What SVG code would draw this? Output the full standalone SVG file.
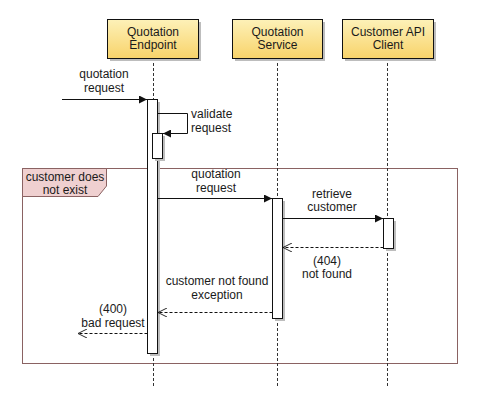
<svg xmlns="http://www.w3.org/2000/svg" width="480" height="411" viewBox="0 0 480 411">
<defs>
<linearGradient id="hdr" x1="0" y1="0" x2="0" y2="1">
<stop offset="0" stop-color="#fdf1b8"/>
<stop offset="1" stop-color="#f8d36a"/>
</linearGradient>
<marker id="filled" viewBox="0 0 10 10" refX="10" refY="5" markerWidth="9" markerHeight="8" markerUnits="userSpaceOnUse" orient="auto">
<path d="M0,0 L10,5 L0,10 z" fill="#111"/>
</marker>
<marker id="open" viewBox="0 0 10 10" refX="10" refY="5" markerWidth="9" markerHeight="9" markerUnits="userSpaceOnUse" orient="auto">
<path d="M0,0 L10,5 L0,10" fill="none" stroke="#111" stroke-width="1"/>
</marker>
</defs>
<style>
text{font-family:"Liberation Sans",Arial,sans-serif;font-size:12px;fill:#1a1a1a}
.c{text-anchor:middle}
.hdr{fill:url(#hdr);stroke:#111;stroke-width:1}
.shadow{fill:#bdbdbd}
.life{stroke:#333;stroke-width:1;stroke-dasharray:3,2;fill:none}
.act{fill:#fff;stroke:#111;stroke-width:1}
.msg{stroke:#111;stroke-width:1;fill:none}
.dash{stroke:#111;stroke-width:1;fill:none;stroke-dasharray:3,2}
.frame{fill:none;stroke:#8a6262;stroke-width:1}
.tab{fill:#efd0d0;stroke:#8a6262;stroke-width:1}
</style>
<rect width="480" height="411" fill="#fff"/>

<g id="fragment">
<rect class="frame" x="22.5" y="168.5" width="435" height="195"/>
<path class="tab" d="M22.5,168.5 H106.5 V186 L98,196.5 H22.5 Z"/>
<text class="c" x="65" y="181">customer does</text>
<text class="c" x="65" y="194">not exist</text>
</g>

<g id="lifelines">
<line class="life" x1="153.5" y1="58" x2="153.5" y2="388"/>
<line class="life" x1="277.5" y1="58" x2="277.5" y2="388"/>
<line class="life" x1="387.5" y1="58" x2="387.5" y2="388"/>
</g>

<g id="quotation-endpoint">
<rect class="shadow" x="110" y="22" width="91" height="39"/>
<rect class="hdr" x="107.5" y="19.5" width="91" height="39"/>
<text class="c" x="153" y="36">Quotation</text>
<text class="c" x="153" y="49">Endpoint</text>
</g>

<g id="quotation-service">
<rect class="shadow" x="235" y="22" width="90" height="39"/>
<rect class="hdr" x="232.5" y="19.5" width="90" height="39"/>
<text class="c" x="277.5" y="36">Quotation</text>
<text class="c" x="277.5" y="49">Service</text>
</g>

<g id="customer-api-client">
<rect class="shadow" x="345" y="22" width="91" height="39"/>
<rect class="hdr" x="342.5" y="19.5" width="91" height="39"/>
<text class="c" x="388" y="36">Customer API</text>
<text class="c" x="388" y="49">Client</text>
</g>

<g id="activations">
<rect class="shadow" x="150" y="102" width="10" height="254"/>
<rect class="act" x="147.5" y="99.5" width="10" height="254"/>
<rect class="shadow" x="155" y="136" width="10" height="25"/>
<rect class="act" x="152.5" y="133.5" width="10" height="25"/>
<rect class="shadow" x="275" y="201" width="10" height="120"/>
<rect class="act" x="272.5" y="198.5" width="10" height="120"/>
<rect class="shadow" x="386" y="221" width="10" height="30"/>
<rect class="act" x="383.5" y="218.5" width="10" height="30"/>
</g>

<g id="connectors">
<line class="msg" x1="62" y1="99.5" x2="147" y2="99.5" marker-end="url(#filled)"/>
<path class="msg" d="M157.5,113.5 H187.5 V133.5 H163" marker-end="url(#filled)"/>
<line class="msg" x1="157.5" y1="198.5" x2="272" y2="198.5" marker-end="url(#filled)"/>
<line class="msg" x1="282.5" y1="218.5" x2="383" y2="218.5" marker-end="url(#filled)"/>
<line class="dash" x1="383.5" y1="247.5" x2="283" y2="247.5" marker-end="url(#open)"/>
<line class="dash" x1="272.5" y1="312.5" x2="158" y2="312.5" marker-end="url(#open)"/>
<line class="dash" x1="147.5" y1="333.5" x2="78" y2="333.5" marker-end="url(#open)"/>
</g>

<g id="labels">
<text class="c" x="104" y="78">quotation</text>
<text class="c" x="104" y="92">request</text>
<text x="191" y="118">validate</text>
<text x="191" y="132">request</text>
<text class="c" x="216" y="178">quotation</text>
<text class="c" x="216" y="192">request</text>
<text class="c" x="332" y="198">retrieve</text>
<text class="c" x="332" y="211">customer</text>
<text class="c" x="327" y="265">(404)</text>
<text class="c" x="327" y="278">not found</text>
<text class="c" x="217" y="285">customer not found</text>
<text class="c" x="217" y="299">exception</text>
<text class="c" x="113" y="313">(400)</text>
<text class="c" x="113" y="327">bad request</text>
</g>
</svg>
